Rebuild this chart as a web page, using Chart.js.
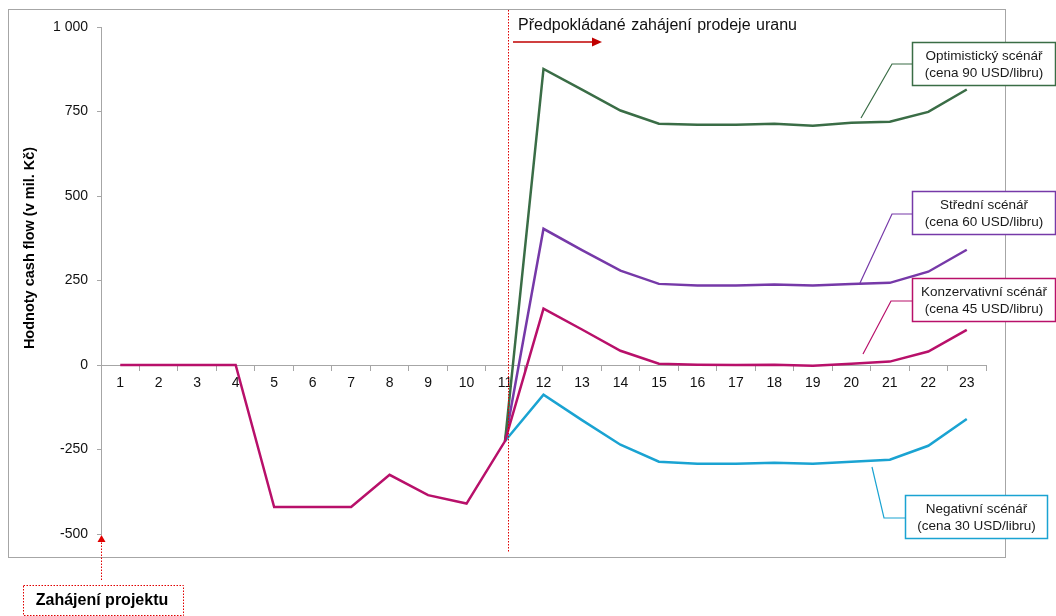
<!DOCTYPE html>
<html>
<head>
<meta charset="utf-8">
<script src="https://cdn.jsdelivr.net/npm/chart.js@4.4.1/dist/chart.umd.min.js"></script>
<style>
  html, body { margin: 0; padding: 0; background: #fff; }
  #wrap { width: 1056px; height: 616px; position: relative; }
</style>
</head>
<body>
<div id="wrap"><canvas id="cf" width="1056" height="616"></canvas></div>
<script>
// roky projektu
var years = ['1','2','3','4','5','6','7','8','9','10','11','12','13','14','15','16','17','18','19','20','21','22','23'];

// spolecna cast (roky 1-11), stejna pro vsechny scenare
var shared = [0, 0, 0, 0, -420, -420, -420, -325, -385, -410, -225];

// scenare pro roky 12-23
var optimistic   = [876, 815, 753, 714, 711, 711, 714, 708, 717, 720, 749, 815];
var middle       = [403, 340, 279, 240, 235, 235, 238, 235, 240, 243, 276, 341];
var conservative = [167, 105, 42, 4, 1, 0, 1, -2, 4, 10, 40, 104];
var negative     = [-88, -163, -236, -286, -292, -292, -289, -292, -286, -280, -239, -160];

var yTicks = [-500, -250, 0, 250, 500, 750, 1000];

var C_GREEN = '#3a6d46';
var C_PURPLE = '#7639a8';
var C_MAGENTA = '#b8106a';
var C_CYAN = '#1aa3d2';
var C_RED = '#e00000';
var FONT = '"Liberation Sans", Arial, sans-serif';

function fromYear11(arr) {
  var out = [];
  for (var i = 0; i < 10; i++) out.push(null);
  out.push(shared[10]);
  return out.concat(arr);
}

var callouts = [
  { color: C_GREEN,   lines: ['Optimistický scénář', '(cena 90 USD/libru)'],   box: [912.5, 42.5, 143, 43],  path: [[912, 64], [892, 64], [861, 118]] },
  { color: C_PURPLE,  lines: ['Střední scénář', '(cena 60 USD/libru)'],        box: [912.5, 191.5, 143, 43], path: [[912, 214], [892, 214], [860, 283]] },
  { color: C_MAGENTA, lines: ['Konzervativní scénář', '(cena 45 USD/libru)'],  box: [912.5, 278.5, 143, 43], path: [[912, 301], [891, 301], [863, 354]] },
  { color: C_CYAN,    lines: ['Negativní scénář', '(cena 30 USD/libru)'],      box: [905.5, 495.5, 142, 43], path: [[905, 518], [884, 518], [872, 467]] }
];

var decor = {
  id: 'decor',
  beforeDraw: function(chart) {
    var ctx = chart.ctx;
    ctx.save();
    ctx.fillStyle = '#fff';
    ctx.fillRect(0, 0, chart.width, chart.height);
    ctx.strokeStyle = '#a6a6a6';
    ctx.lineWidth = 1;
    ctx.strokeRect(8.5, 9.5, 997, 548);
    ctx.restore();
  },
  afterDraw: function(chart) {
    var ctx = chart.ctx;
    var x = chart.scales.x;
    ctx.save();

    // y axis title
    ctx.save();
    ctx.translate(30, 248);
    ctx.rotate(-Math.PI / 2);
    ctx.font = 'bold 14.5px ' + FONT;
    ctx.fillStyle = '#000';
    ctx.textAlign = 'center';
    ctx.textBaseline = 'middle';
    ctx.fillText('Hodnoty cash flow (v mil. Kč)', 0, 0);
    ctx.restore();

    // dotted line: start of sales
    var sx = Math.round(x.getPixelForValue(10)) + 3.5;
    ctx.strokeStyle = C_RED;
    ctx.lineWidth = 1;
    ctx.setLineDash([1.5, 1.5]);
    ctx.beginPath();
    ctx.moveTo(sx, 10);
    ctx.lineTo(sx, 552);
    ctx.stroke();
    ctx.setLineDash([]);

    // heading text with word spacing
    var words = ['Předpokládané', 'zahájení', 'prodeje', 'uranu'];
    ctx.font = '16px ' + FONT;
    ctx.fillStyle = '#111';
    ctx.textBaseline = 'middle';
    ctx.textAlign = 'left';
    var total = 0;
    words.forEach(function(w) { total += ctx.measureText(w).width; });
    var gap = Math.max(4, (279 - total) / (words.length - 1));
    var tx = 518;
    words.forEach(function(w) {
      ctx.fillText(w, tx, 26);
      tx += ctx.measureText(w).width + gap;
    });

    // red arrow to the right
    ctx.strokeStyle = '#c00000';
    ctx.fillStyle = '#c00000';
    ctx.lineWidth = 1.5;
    ctx.beginPath();
    ctx.moveTo(513, 42);
    ctx.lineTo(594, 42);
    ctx.stroke();
    ctx.beginPath();
    ctx.moveTo(602, 42);
    ctx.lineTo(592, 37.5);
    ctx.lineTo(592, 46.5);
    ctx.closePath();
    ctx.fill();

    // project start box + dotted arrow
    ctx.strokeStyle = C_RED;
    ctx.fillStyle = C_RED;
    ctx.lineWidth = 1;
    ctx.setLineDash([1.5, 1.5]);
    ctx.beginPath();
    ctx.moveTo(101.5, 580);
    ctx.lineTo(101.5, 541);
    ctx.stroke();
    ctx.strokeRect(23.5, 585.5, 160, 30);
    ctx.setLineDash([]);
    ctx.beginPath();
    ctx.moveTo(101.5, 535);
    ctx.lineTo(97.5, 542);
    ctx.lineTo(105.5, 542);
    ctx.closePath();
    ctx.fill();
    ctx.font = 'bold 16px ' + FONT;
    ctx.fillStyle = '#000';
    ctx.textAlign = 'center';
    ctx.fillText('Zahájení projektu', 102, 601);

    // scenario callouts
    callouts.forEach(function(c) {
      ctx.strokeStyle = c.color;
      ctx.lineWidth = 1.2;
      ctx.beginPath();
      c.path.forEach(function(p, i) {
        if (i === 0) ctx.moveTo(p[0], p[1]); else ctx.lineTo(p[0], p[1]);
      });
      ctx.stroke();
      var b = c.box;
      ctx.fillStyle = '#fff';
      ctx.fillRect(b[0], b[1], b[2], b[3]);
      ctx.lineWidth = 1.5;
      ctx.strokeRect(b[0], b[1], b[2], b[3]);
      ctx.font = '13.5px ' + FONT;
      ctx.fillStyle = '#1a1a1a';
      ctx.textAlign = 'center';
      ctx.textBaseline = 'middle';
      ctx.fillText(c.lines[0], b[0] + b[2] / 2, b[1] + 13.5);
      ctx.fillText(c.lines[1], b[0] + b[2] / 2, b[1] + 31);
    });

    ctx.restore();
  }
};

function line(label, data, color) {
  return {
    label: label,
    data: data,
    borderColor: color,
    backgroundColor: color,
    borderWidth: 2.5,
    pointRadius: 0,
    tension: 0,
    fill: false,
    spanGaps: false
  };
}

new Chart(document.getElementById('cf'), {
  type: 'line',
  data: {
    labels: years,
    datasets: [
      line('Konzervativní scénář', shared.concat(conservative), C_MAGENTA),
      line('Optimistický scénář', fromYear11(optimistic), C_GREEN),
      line('Střední scénář', fromYear11(middle), C_PURPLE),
      line('Negativní scénář', fromYear11(negative), C_CYAN)
    ]
  },
  options: {
    responsive: false,
    animation: false,
    devicePixelRatio: 1,
    layout: { padding: { left: 0, top: 27, right: 70, bottom: 82 } },
    plugins: { legend: { display: false }, tooltip: { enabled: false } },
    scales: {
      x: {
        position: { y: 0 },
        offset: true,
        grid: { display: true, offset: true, drawOnChartArea: false, drawTicks: true, tickLength: 5, color: '#a6a6a6' },
        border: { display: true, color: '#a6a6a6', width: 1 },
        ticks: { color: '#111', padding: 5, maxRotation: 0, autoSkip: false, font: { family: FONT, size: 14 } },
        afterFit: function(s) { s.height = 0; }
      },
      y: {
        min: yTicks[0],
        max: yTicks[yTicks.length - 1],
        afterBuildTicks: function(s) { s.ticks = yTicks.map(function(v) { return { value: v }; }); },
        grid: { display: true, drawOnChartArea: false, drawTicks: true, tickLength: 4, color: '#a6a6a6' },
        border: { display: true, color: '#a6a6a6', width: 1 },
        ticks: {
          color: '#111',
          padding: 9,
          font: { family: FONT, size: 14 },
          callback: function(v) { return v === 1000 ? '1 000' : String(v); }
        },
        afterFit: function(s) { s.width = 101; }
      }
    }
  },
  plugins: [decor]
});
</script>
</body>
</html>
